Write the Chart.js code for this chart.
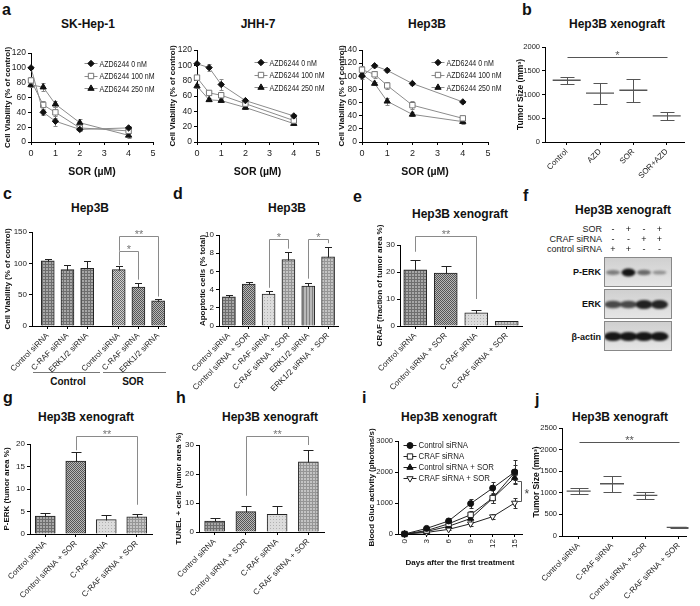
<!DOCTYPE html>
<html lang="en"><head><meta charset="utf-8"><title>Hep3B figure</title>
<script src="https://cdn.jsdelivr.net/npm/chart.js@4.4.1/dist/chart.umd.min.js"></script>
<style>
html,body{margin:0;padding:0;background:#fff;}
#fig{position:relative;width:700px;height:606px;overflow:hidden;background:#fff;font-family:"Liberation Sans",Arial,sans-serif;color:#111;}
#fig canvas{position:absolute;left:0;top:0;}
.tx{position:absolute;white-space:nowrap;line-height:1;}
.letter{font-weight:bold;font-size:16px;}
.ttl{font-weight:bold;font-size:12px;transform:translate(-50%,-50%);}
.grp{font-weight:bold;font-size:10px;transform:translate(-50%,-50%);}
.hl{position:absolute;height:1px;background:#777;}
.bl{font-size:9px;transform:translate(-100%,-50%);color:#222;}
.blb{font-size:9px;font-weight:bold;transform:translate(-100%,-50%);}
.sg{font-size:9px;transform:translate(-50%,-50%);}
</style></head><body>
<div id="fig">
 <div class="tx letter" style="left:2px;top:2px">a</div>
 <div class="tx letter" style="left:522px;top:2px">b</div>
 <div class="tx letter" style="left:3px;top:186px">c</div>
 <div class="tx letter" style="left:173px;top:186px">d</div>
 <div class="tx letter" style="left:353px;top:189px">e</div>
 <div class="tx letter" style="left:523px;top:188px">f</div>
 <div class="tx letter" style="left:3px;top:390px">g</div>
 <div class="tx letter" style="left:176px;top:390px">h</div>
 <div class="tx letter" style="left:362px;top:390px">i</div>
 <div class="tx letter" style="left:535px;top:392px">j</div>

 <div class="tx ttl" style="left:88px;top:24px">SK-Hep-1</div>
 <div class="tx ttl" style="left:258px;top:24px">JHH-7</div>
 <div class="tx ttl" style="left:427px;top:24px">Hep3B</div>
 <div class="tx ttl" style="left:617px;top:24px">Hep3B xenograft</div>
 <div class="tx ttl" style="left:90px;top:208px">Hep3B</div>
 <div class="tx ttl" style="left:287px;top:208px">Hep3B</div>
 <div class="tx ttl" style="left:460px;top:214px">Hep3B xenograft</div>
 <div class="tx ttl" style="left:623px;top:210px">Hep3B xenograft</div>
 <div class="tx ttl" style="left:86px;top:417px">Hep3B xenograft</div>
 <div class="tx ttl" style="left:270px;top:417px">Hep3B xenograft</div>
 <div class="tx ttl" style="left:449px;top:417px">Hep3B xenograft</div>
 <div class="tx ttl" style="left:620px;top:417px">Hep3B xenograft</div>

 <div class="hl" style="left:33px;top:372px;width:67px"></div>
 <div class="hl" style="left:103px;top:372px;width:63px"></div>
 <div class="tx grp" style="left:68px;top:382px">Control</div>
 <div class="tx grp" style="left:133px;top:382px">SOR</div>

 <div class="tx bl" style="left:602px;top:229px">SOR</div>
 <div class="tx bl" style="left:602px;top:239px">CRAF siRNA</div>
 <div class="tx bl" style="left:602px;top:249px">control siRNA</div>
 <div class="tx blb" style="left:601px;top:272px">P-ERK</div>
 <div class="tx blb" style="left:601px;top:304px">ERK</div>
 <div class="tx blb" style="left:601px;top:337px">β-actin</div>
</div>
<script>
// ================= DATA =================
// panel a: cell viability vs sorafenib dose
const sorDoses = [0, 0.5, 1, 2, 4];
const azdLegend = ['AZD6244 0 nM', 'AZD6244 100 nM', 'AZD6244 250 nM'];
const skHep0 = [100, 40, 28, 17, 19];
const skHep100 = [83, 50, 40, 19, 15];
const skHep250 = [77, 74, 51, 26, 9];
const skHep0Err = [2, 3, 7, 2, 2];
const skHep100Err = [4, 5, 7, 3, 3];
const skHep250Err = [3, 5, 4, 5, 3];
const jhh0 = [102, 97, 75, 54, 34];
const jhh100 = [84, 64, 61, 50, 28];
const jhh250 = [73, 55, 54, 45, 24];
const jhh0Err = [2, 5, 7, 2, 2];
const jhh100Err = [3, 3, 3, 2, 2];
const jhh250Err = [3, 2, 2, 2, 2];
const hep0 = [100, 116, 109, 89, 61];
const hep100 = [110, 103, 86, 56, 36];
const hep250 = [103, 89, 62, 42, 31];
const hep0Err = [4, 2, 3, 2, 2];
const hep100Err = [5, 5, 6, 6, 3];
const hep250Err = [4, 3, 5, 3, 3];

// panel b: tumor size
const bGroups = ['Control', 'AZD', 'SOR', 'SOR+AZD'];
const bMean = [1300, 1030, 1090, 550];
const bLow = [1225, 800, 850, 470];
const bHigh = [1370, 1240, 1330, 640];

// panel c: cell viability with siRNA
const cLabels = ['Control siRNA', 'C-RAF siRNA', 'ERK1/2 siRNA', 'Control siRNA', 'C-RAF siRNA', 'ERK1/2 siRNA'];
const cPositions = [0, 1, 2, 3.6, 4.6, 5.6];
const cValues = [104, 90, 92, 90, 62, 40];
const cErrors = [3, 7, 11, 5, 7, 3];

// panel d: apoptotic cells
const dLabels = ['Control siRNA', 'Control siRNA + SOR', 'C-RAF siRNA', 'C-RAF siRNA + SOR', 'ERK1/2 siRNA', 'ERK1/2 siRNA + SOR'];
const dValues = [3.2, 4.6, 3.5, 7.3, 4.4, 7.6];
const dErrors = [0.25, 0.2, 0.35, 0.85, 0.3, 1.1];

// panels e, g, h share groups
const xenoLabels = ['Control siRNA', 'Control siRNA + SOR', 'C-RAF siRNA', 'C-RAF siRNA + SOR'];
const eValues = [20.8, 19.6, 4.9, 1.7];
const eErrors = [3.8, 2.6, 1.2, 0.3];
const gValues = [4.0, 16.2, 3.2, 3.8];
const gErrors = [0.6, 2.0, 1.1, 0.6];
const hValues = [3.8, 7.0, 6.1, 24.2];
const hErrors = [1.0, 1.8, 3.0, 4.2];

// panel f: western blot
const blotSOR = ['-', '+', '-', '+'];
const blotCRAF = ['-', '-', '+', '+'];
const blotCtrl = ['+', '+', '-', '-'];
const blotPERK = [0.45, 0.95, 0.55, 0.35];
const blotERK = [0.7, 0.7, 0.9, 0.88];
const blotActin = [0.95, 0.95, 0.95, 0.95];

// panel i: Gluc activity over days
const days = [0, 3, 6, 9, 12, 15];
const iLegend = ['Control siRNA', 'CRAF siRNA', 'Control siRNA + SOR', 'CRAF siRNA + SOR'];
const iCtrl = [0, 180, 420, 980, 1480, 2000];
const iCraf = [0, 110, 330, 620, 1160, 1980];
const iCtrlSor = [0, 80, 250, 500, 1150, 1820];
const iCrafSor = [0, 50, 150, 330, 560, 1000];
const iCtrlErr = [15, 40, 90, 150, 200, 400];
const iCrafErr = [15, 30, 60, 120, 170, 250];
const iCtrlSorErr = [10, 30, 50, 100, 150, 180];
const iCrafSorErr = [10, 20, 30, 60, 80, 150];

// panel j: tumor size
const jLabels = ['Control siRNA', 'C-RAF siRNA', 'Control siRNA + SOR', 'C-RAF siRNA + SOR'];
const jMean = [1040, 1210, 940, 200];
const jLow = [975, 1020, 855, 185];
const jHigh = [1105, 1400, 1025, 215];

// ================= SETUP =================
const FIG = document.getElementById('fig');
const W = 700, H = 606;
const SANS = '"Liberation Sans", Arial, sans-serif';
Chart.defaults.font.family = SANS;
Chart.defaults.font.size = 8;
Chart.defaults.color = '#222';
Chart.defaults.animation = false;
Chart.defaults.events = [];
Chart.defaults.plugins.legend.display = false;
Chart.defaults.plugins.tooltip.enabled = false;

function marker(ctx, style, x, y, r, fill, stroke, lw, rot) {
  ctx.save();
  ctx.translate(x, y);
  if (rot) ctx.rotate(rot * Math.PI / 180);
  ctx.beginPath();
  if (style === 'circle') ctx.arc(0, 0, r, 0, Math.PI * 2);
  else if (style === 'rect') { const s = r * Math.SQRT1_2; ctx.rect(-s, -s, 2 * s, 2 * s); }
  else if (style === 'rectRot') { ctx.moveTo(0, -r); ctx.lineTo(r, 0); ctx.lineTo(0, r); ctx.lineTo(-r, 0); ctx.closePath(); }
  else if (style === 'triangle') {
    for (let k = 0; k < 3; k++) { const a = k * 2 * Math.PI / 3; const px = Math.sin(a) * r, py = -Math.cos(a) * r; k ? ctx.lineTo(px, py) : ctx.moveTo(px, py); }
    ctx.closePath();
  }
  ctx.fillStyle = fill; ctx.fill();
  ctx.lineWidth = lw || 1; ctx.strokeStyle = stroke; ctx.stroke();
  ctx.restore();
}

const errPlugin = {
  id: 'errbars',
  draw(chart, behind) {
    const ctx = chart.ctx;
    chart.data.datasets.forEach((ds, di) => {
      if (!ds.err && !ds.hi) return;
      if (!!ds.errBehind !== behind) return;
      const meta = chart.getDatasetMeta(di);
      const ys = chart.scales[meta.yAxisID];
      ctx.save();
      ctx.strokeStyle = ds.errColor || '#000';
      ctx.lineWidth = 1;
      meta.data.forEach((el, i) => {
        const raw = ds.data[i];
        const v = (typeof raw === 'object') ? raw.y : raw;
        let top, bot;
        if (ds.hi) { top = ys.getPixelForValue(ds.hi[i]); bot = ys.getPixelForValue(ds.lo[i]); }
        else { top = ys.getPixelForValue(v + ds.err[i]); bot = ds.errUpOnly ? ys.getPixelForValue(v) : ys.getPixelForValue(v - ds.err[i]); }
        const x = Math.round(el.x) + 0.5, c = ds.cap / 2;
        const tp = Math.round(top) + 0.5, bp = Math.round(bot) + 0.5;
        ctx.beginPath();
        ctx.moveTo(x, tp); ctx.lineTo(x, bp);
        ctx.moveTo(x - c, tp); ctx.lineTo(x + c, tp);
        if (!ds.errUpOnly) { ctx.moveTo(x - c, bp); ctx.lineTo(x + c, bp); }
        ctx.stroke();
      });
      ctx.restore();
    });
  },
  beforeDatasetsDraw(chart) { this.draw(chart, true); },
  afterDatasetsDraw(chart) { this.draw(chart, false); }
};

const sigPlugin = {
  id: 'sig',
  afterDraw(chart, args, opts) {
    const items = (opts && opts.items) || [];
    if (!items.length) return;
    const ctx = chart.ctx, xs = chart.scales.x, ys = chart.scales.y;
    ctx.save();
    ctx.strokeStyle = opts.color || '#8a8a8a';
    ctx.fillStyle = opts.textColor || '#777';
    ctx.lineWidth = 1;
    ctx.font = (opts.fontSize || 11) + 'px ' + SANS;
    items.forEach(it => {
      if (it.vertical) {
        const x = Math.round(xs.getPixelForValue(it.x)) + 0.5;
        const y1 = Math.round(ys.getPixelForValue(it.y1)) + 0.5, y2 = Math.round(ys.getPixelForValue(it.y2)) + 0.5;
        ctx.beginPath(); ctx.moveTo(x - it.tick, y1); ctx.lineTo(x, y1); ctx.lineTo(x, y2); ctx.lineTo(x - it.tick, y2); ctx.stroke();
        ctx.textAlign = 'left'; ctx.textBaseline = 'middle';
        ctx.fillText(it.text, x + 3, (y1 + y2) / 2 + 3);
        return;
      }
      const x1 = Math.round(xs.getPixelForValue(it.x1)) + 0.5, x2 = Math.round(xs.getPixelForValue(it.x2)) + 0.5;
      const y = Math.round(ys.getPixelForValue(it.y)) + 0.5;
      ctx.beginPath();
      if (it.y1 != null) { ctx.moveTo(x1, ys.getPixelForValue(it.y1)); ctx.lineTo(x1, y); } else ctx.moveTo(x1, y);
      ctx.lineTo(x2, y);
      if (it.y2 != null) ctx.lineTo(x2, ys.getPixelForValue(it.y2));
      ctx.stroke();
      ctx.textAlign = 'center'; ctx.textBaseline = 'bottom';
      ctx.fillText(it.text, (x1 + x2) / 2, y + 4);
    });
    ctx.restore();
  }
};

const legendPlugin = {
  id: 'inLegend',
  afterDraw(chart, args, o) {
    if (!o || !o.show) return;
    const ctx = chart.ctx, ca = chart.chartArea;
    ctx.save();
    chart.data.datasets.forEach((ds, i) => {
      const x = ca.left + o.x, y = ca.top + o.y + i * o.dy;
      ctx.strokeStyle = ds.borderColor; ctx.lineWidth = 1;
      ctx.beginPath(); ctx.moveTo(x - o.len / 2, Math.round(y) + 0.5); ctx.lineTo(x + o.len / 2, Math.round(y) + 0.5); ctx.stroke();
      marker(ctx, ds.pointStyle, x, y + 0.5, ds.pointRadius, ds.pointBackgroundColor, ds.pointBorderColor, ds.pointBorderWidth, ds.pointRotation || 0);
      ctx.save();
      ctx.translate(x + o.len / 2 + 2, y + 1);
      ctx.scale(o.sx || 1, 1);
      ctx.fillStyle = '#222'; ctx.font = o.font; ctx.textAlign = 'left'; ctx.textBaseline = 'middle';
      ctx.fillText(ds.label, 0, 0);
      ctx.restore();
    });
    ctx.restore();
  }
};
Chart.register(errPlugin, sigPlugin, legendPlugin);

function newCanvas() {
  const c = document.createElement('canvas');
  c.width = W; c.height = H; c.style.width = W + 'px'; c.style.height = H + 'px';
  FIG.appendChild(c);
  return c;
}
function chart(area, cfg, plugins) {
  cfg.options = cfg.options || {};
  cfg.options.responsive = false;
  cfg.options.maintainAspectRatio = false;
  cfg.options.devicePixelRatio = 1;
  cfg.options.animation = false;
  cfg.options.layout = { padding: { left: 0, top: area.t, right: W - area.r, bottom: 0 } };
  if (plugins) cfg.plugins = plugins;
  return new Chart(newCanvas(), cfg);
}
function yLin(area, min, max, step, title, titleX, o = {}) {
  const ts = o.titleSize || 8;
  return {
    type: 'linear', position: 'left', min, max,
    ticks: { stepSize: step, font: { size: o.tickSize || 8 }, color: '#222', padding: 2, autoSkip: false, callback: v => String(v) },
    grid: { drawOnChartArea: false, drawTicks: true, tickLength: 3, color: '#000', lineWidth: 1 },
    border: { display: true, color: '#000', width: 1 },
    title: { display: true, text: title, color: '#111', font: { size: ts, weight: 'bold', family: SANS }, padding: { top: titleX - ts * 0.6, bottom: 0 } },
    afterFit: s => { s.width = area.l; }
  };
}
function xAx(area, o = {}) {
  const ax = {
    position: 'bottom', offset: !!o.offset,
    grid: { drawOnChartArea: false, drawTicks: true, tickLength: o.tickLen != null ? o.tickLen : 3, color: '#000', lineWidth: 1, offset: false },
    border: { display: true, color: '#000', width: 1 },
    ticks: { font: { size: o.tickSize || 8 }, color: '#222', autoSkip: false, maxRotation: o.rot || 0, minRotation: o.rot || 0, padding: o.tickPad != null ? o.tickPad : 2 },
    afterFit: s => { s.height = H - area.b; s.paddingLeft = 0; s.paddingRight = 0; }
  };
  if (o.title) {
    const ts = o.titleSize || 8;
    ax.title = { display: true, text: o.title, color: '#111', font: { size: ts, weight: 'bold', family: SANS }, padding: { top: 0, bottom: H - o.titleY - ts * 0.6 } };
  }
  return ax;
}
function xPositions(area, min, max, positions, labels, o) {
  const ax = xAx(area, o);
  ax.type = 'linear'; ax.min = min; ax.max = max;
  ax.afterBuildTicks = s => { s.ticks = positions.map(v => ({ value: v })); };
  ax.ticks.callback = (v, i) => labels[i];
  return ax;
}

function pattern(kind, bg, fg) {
  const t = document.createElement('canvas');
  const n = kind === 'check' ? 2 : 3;
  t.width = n; t.height = n;
  const x = t.getContext('2d');
  x.fillStyle = bg; x.fillRect(0, 0, n, n);
  x.fillStyle = fg;
  if (kind === 'grid') { x.fillRect(0, 0, n, 1); x.fillRect(0, 0, 1, n); }
  else if (kind === 'check') { x.fillRect(0, 0, 1, 1); x.fillRect(1, 1, 1, 1); }
  else if (kind === 'dots') { x.fillRect(0, 0, 1, 1); }
  else if (kind === 'vert') { x.fillRect(0, 0, 1, n); }
  return t.getContext('2d').createPattern(t, 'repeat');
}
const PGRID = pattern('grid', '#a8a8a8', '#6e6e6e');
const PCHECK = pattern('check', '#d0d0d0', '#6a6a6a');
const PCHECK2 = pattern('check', '#b8b8b8', '#555');
const PLIGHT = pattern('dots', '#dcdcdc', '#b0b0b0');
const PMID = pattern('grid', '#c4c4c4', '#959595');
const PVERT = pattern('vert', '#b8b8b8', '#808080');

// ================= PANEL a =================
const azdStyle = [
  { style: 'rectRot', r: 3.2, fill: '#111', stroke: '#111' },
  { style: 'rect', r: 3.8, fill: '#fff', stroke: '#777' },
  { style: 'triangle', r: 3.6, fill: '#111', stroke: '#111' }
];
function azdChart(area, yMax, series, errs, titleX, leg) {
  const datasets = series.map((s, k) => ({
    label: azdLegend[k],
    data: sorDoses.map((d, i) => ({ x: d, y: s[i] })),
    err: errs[k], errColor: '#8a8a8a', cap: 4, errBehind: true,
    borderColor: '#8c8c8c', borderWidth: 1, tension: 0,
    pointStyle: azdStyle[k].style, pointRadius: azdStyle[k].r,
    pointBackgroundColor: azdStyle[k].fill, pointBorderColor: azdStyle[k].stroke, pointBorderWidth: 1
  }));
  const x = xAx(area, { tickSize: 9, tickPad: 3, title: 'SOR (µM)', titleY: 172, titleSize: 10.5 });
  x.type = 'linear'; x.min = 0; x.max = 5; x.ticks.stepSize = 1;
  return chart(area, {
    type: 'line', data: { datasets },
    options: {
      clip: false,
      scales: { x, y: yLin(area, 0, yMax, 20, 'Cell Viability (% of control)', titleX, { tickSize: 8.5 }) },
      plugins: { inLegend: { show: true, x: leg.x, y: leg.y, dy: 12.5, len: 13, font: '9.5px ' + SANS, sx: 0.74 } }
    }
  });
}
azdChart({ l: 31, t: 53, r: 153, b: 142 }, 120, [skHep0, skHep100, skHep250], [skHep0Err, skHep100Err, skHep250Err], 8, { x: 60, y: 10 });
azdChart({ l: 197, t: 50, r: 318, b: 142 }, 120, [jhh0, jhh100, jhh250], [jhh0Err, jhh100Err, jhh250Err], 173, { x: 64, y: 12 });
azdChart({ l: 362, t: 50, r: 488, b: 142 }, 140, [hep0, hep100, hep250], [hep0Err, hep100Err, hep250Err], 342, { x: 76, y: 12 });

// ================= PANEL b / j (mean with range) =================
function rangeChart(area, labels, mean, low, high, yMax, step, titleX, sig, lineR, cap, xmin, xmax) {
  return chart(area, {
    type: 'line',
    data: { datasets: [{
      data: mean.map((v, i) => ({ x: i, y: v })), showLine: false,
      pointStyle: 'line', pointRadius: lineR, pointBorderColor: '#555', pointBorderWidth: 1.3,
      lo: low, hi: high, errColor: '#555', cap
    }] },
    options: {
      scales: {
        x: xPositions(area, xmin, xmax, labels.map((_, i) => i), labels, { rot: 45, tickSize: 8 }),
        y: yLin(area, 0, yMax, step, 'Tumor Size (mm³)', titleX, { titleSize: 8.5, tickSize: 7.5 })
      },
      plugins: { sig: { items: sig, color: '#555', textColor: '#555', fontSize: 11 } }
    }
  });
}
rangeChart({ l: 545, t: 47, r: 692, b: 142 }, bGroups, bMean, bLow, bHigh, 2000, 500, 521,
  [{ x1: 0, x2: 3, y: 1800, text: '*' }], 14, 14, -0.65, 3.54);
rangeChart({ l: 562, t: 428, r: 690, b: 536 }, jLabels, jMean, jLow, jHigh, 2500, 500, 537,
  [{ x1: 0, x2: 3, y: 2180, text: '**' }], 12, 18, -0.5, 3.24);

// ================= PANEL c =================
(function () {
  const area = { l: 32, t: 232, r: 166, b: 326 };
  chart(area, {
    type: 'bar',
    data: { datasets: [{
      data: cPositions.map((x, i) => ({ x, y: cValues[i] })),
      backgroundColor: [PGRID, PGRID, PGRID, PCHECK, PCHECK2, PCHECK2],
      borderColor: '#222', borderWidth: 1, barThickness: 13,
      err: cErrors, errUpOnly: true, cap: 7, errColor: '#222'
    }] },
    options: {
      scales: {
        x: xPositions(area, -0.8, 6.0, cPositions, cLabels, { rot: 45 }),
        y: yLin(area, 0, 150, 50, 'Cell Viability (% of control)', 8)
      },
      plugins: { sig: { items: [
        { x1: 3.6, x2: 4.6, y: 120, y1: 97, y2: 74, text: '*' },
        { x1: 3.6, x2: 5.6, y: 143, y1: 120, y2: 47, text: '**' }
      ] } }
    }
  });
})();

// ================= PANELS d, e, g, h (bars) =================
function barChart(area, labels, vals, errs, fills, o) {
  const x = xAx(area, { rot: 45, offset: true });
  x.type = 'category';
  return chart(area, {
    type: 'bar',
    data: { labels, datasets: [{
      data: vals, backgroundColor: fills, borderColor: '#222', borderWidth: 1, barThickness: o.bw,
      err: errs, errUpOnly: true, cap: o.cap, errColor: '#222'
    }] },
    options: {
      scales: { x, y: yLin(area, 0, o.max, o.step, o.title, o.titleX) },
      plugins: { sig: { items: o.sig } }
    }
  });
}
barChart({ l: 219, t: 235, r: 338, b: 326 }, dLabels, dValues, dErrors,
  [PGRID, PCHECK2, PLIGHT, PMID, PVERT, PMID],
  { bw: 13, cap: 7, max: 10, step: 2, title: 'Apoptotic cells (% total)', titleX: 203,
    sig: [{ x1: 2, x2: 3, y: 9.6, y1: 4.2, y2: 8.5, text: '*' }, { x1: 4, x2: 5, y: 9.6, y1: 5.2, y2: 9.1, text: '*' }] });
barChart({ l: 400, t: 245, r: 522, b: 326 }, xenoLabels, eValues, eErrors,
  [PGRID, PCHECK2, PLIGHT, PMID],
  { bw: 23, cap: 10, max: 30, step: 10, title: 'CRAF (fraction of tumor area %)', titleX: 380,
    sig: [{ x1: 0, x2: 2, y: 33.2, y1: 27.5, y2: 10, text: '**' }] });
barChart({ l: 30, t: 444, r: 152, b: 534 }, xenoLabels, gValues, gErrors,
  [PGRID, PCHECK2, PLIGHT, PMID],
  { bw: 20, cap: 10, max: 20, step: 5, title: 'P-ERK (tumor area %)', titleX: 7,
    sig: [{ x1: 1, x2: 3, y: 21.8, y1: 18.6, y2: 6.5, text: '**' }] });
barChart({ l: 199, t: 445, r: 324, b: 532 }, xenoLabels, hValues, hErrors,
  [PGRID, PCHECK2, PLIGHT, PMID],
  { bw: 20, cap: 10, max: 30, step: 10, title: 'TUNEL + cells (tumor area %)', titleX: 179,
    sig: [{ x1: 1, x2: 3, y: 33, y1: 12.5, y2: 30, text: '**' }] });

// ================= PANEL i =================
const iStyle = [
  { style: 'circle', r: 3, fill: '#111', stroke: '#111', rot: 0 },
  { style: 'rect', r: 3.8, fill: '#fff', stroke: '#222', rot: 0 },
  { style: 'triangle', r: 3.6, fill: '#111', stroke: '#111', rot: 0 },
  { style: 'triangle', r: 3.6, fill: '#fff', stroke: '#222', rot: 180 }
];
(function () {
  const area = { l: 398, t: 441, r: 522, b: 534 };
  const series = [iCtrl, iCraf, iCtrlSor, iCrafSor];
  const errs = [iCtrlErr, iCrafErr, iCtrlSorErr, iCrafSorErr];
  const datasets = series.map((s, k) => ({
    label: iLegend[k],
    data: days.map((d, i) => ({ x: d, y: s[i] })),
    err: errs[k], errColor: '#333', cap: 4, errBehind: true,
    borderColor: '#222', borderWidth: 1, tension: 0,
    pointStyle: iStyle[k].style, pointRadius: iStyle[k].r, pointRotation: iStyle[k].rot,
    pointBackgroundColor: iStyle[k].fill, pointBorderColor: iStyle[k].stroke, pointBorderWidth: 1
  }));
  const x = xAx(area, { rot: 90, tickSize: 8, title: 'Days after the first treatment', titleY: 563, titleSize: 8 });
  x.type = 'linear'; x.min = -0.9; x.max = 16;
  x.afterBuildTicks = s => { s.ticks = days.map(v => ({ value: v })); };
  chart(area, {
    type: 'line', data: { datasets },
    options: {
      clip: false,
      scales: { x, y: yLin(area, 0, 3000, 1000, 'Blood Gluc activity (photons/s)', 372, { tickSize: 7.5 }) },
      plugins: {
        inLegend: { show: true, x: 12, y: 4, dy: 11, len: 13, font: '8.5px ' + SANS, sx: 0.92 },
        sig: { items: [{ vertical: true, x: 15.9, y1: 1720, y2: 1060, tick: 4, text: '*' }], color: '#555', textColor: '#444', fontSize: 12 }
      }
    }
  });
})();

// ================= PANEL f (western blot) =================
(function () {
  const area = { l: 604, t: 256, r: 672, b: 352 };
  const rows = [blotPERK, blotERK, blotActin];
  const halfW = [7, 8.5, 9];
  const thick = [3.2, 4, 3.6];
  const blot = {
    id: 'blot',
    afterDraw(ch) {
      const ctx = ch.ctx, xs = ch.scales.x, ys = ch.scales.y;
      rows.forEach((row, r) => {
        const top = Math.round(ys.getPixelForValue(r - 0.48)), bot = Math.round(ys.getPixelForValue(r + 0.48));
        const left = xs.left, right = xs.right;
        const g = ctx.createLinearGradient(0, top, 0, bot);
        g.addColorStop(0, '#cfcfcf'); g.addColorStop(1, '#e6e6e6');
        ctx.fillStyle = g; ctx.fillRect(left, top, right - left, bot - top);
        ctx.strokeStyle = '#888'; ctx.lineWidth = 1;
        ctx.strokeRect(left + 0.5, top + 0.5, right - left - 1, bot - top - 1);
        ctx.save();
        ctx.beginPath(); ctx.rect(left + 1, top + 1, right - left - 2, bot - top - 2); ctx.clip();
        ctx.filter = 'blur(1.1px)';
        row.forEach((a, i) => {
          const cx = xs.getPixelForValue(i + 1), cy = ys.getPixelForValue(r) + 0.5;
          ctx.fillStyle = 'rgba(12,12,12,' + a + ')';
          ctx.beginPath(); ctx.ellipse(cx, cy, halfW[r], 1 + thick[r] * a, 0, 0, Math.PI * 2); ctx.fill();
        });
        ctx.restore();
      });
    }
  };
  new Chart(newCanvas(), {
    type: 'scatter', data: { datasets: [] },
    options: {
      responsive: false, maintainAspectRatio: false, devicePixelRatio: 1, animation: false,
      layout: { padding: { left: area.l, top: area.t, right: W - area.r, bottom: H - area.b } },
      scales: { x: { type: 'linear', min: 0.42, max: 4.81, display: false }, y: { type: 'linear', min: -0.5, max: 2.5, reverse: true, display: false } }
    },
    plugins: [blot]
  });
  const laneX = [613, 628.5, 644, 659.5];
  [[blotSOR, 229], [blotCRAF, 239], [blotCtrl, 249]].forEach(([signs, y]) => {
    signs.forEach((s, i) => {
      const d = document.createElement('div');
      d.className = 'tx sg'; d.textContent = s;
      d.style.left = laneX[i] + 'px'; d.style.top = y + 'px';
      FIG.appendChild(d);
    });
  });
})();
</script>
</body></html>
